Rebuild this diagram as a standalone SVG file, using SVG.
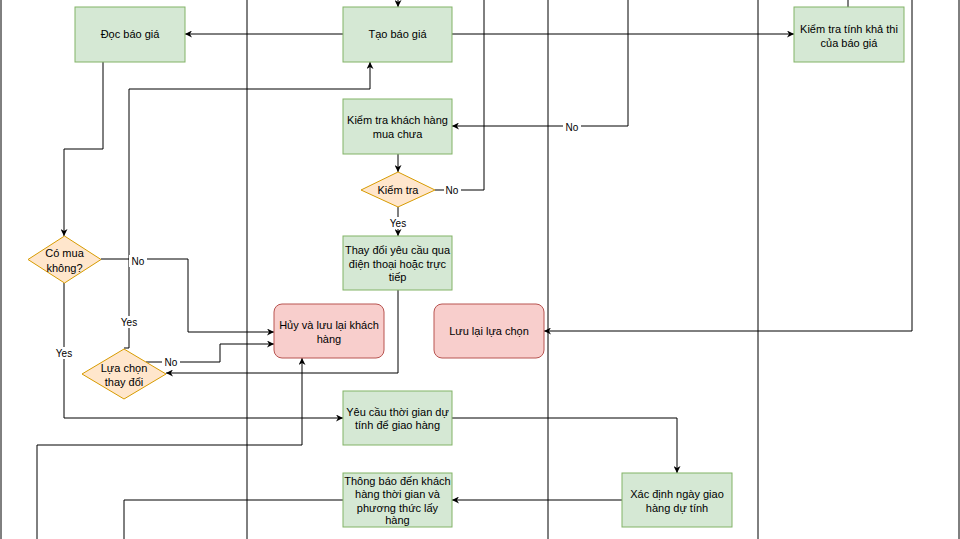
<svg xmlns="http://www.w3.org/2000/svg" width="960" height="539" viewBox="0 0 960 539">
<defs>
<marker id="arr" viewBox="0 0 10 10" refX="10" refY="5" markerWidth="7" markerHeight="7" markerUnits="userSpaceOnUse" orient="auto">
<path d="M0 0 L10 5 L0 10 L3 5 Z" fill="#000"/>
</marker>
<style>
.lane{stroke:#000;stroke-width:1;fill:none}
.e{stroke:#000;stroke-width:1;fill:none}
.ea{stroke:#000;stroke-width:1;fill:none;marker-end:url(#arr)}
.g{fill:#d5e8d4;stroke:#82b366;stroke-width:1}
.r{fill:#f8cecc;stroke:#b85450;stroke-width:1}
.d{fill:#ffe6cc;stroke:#d79b00;stroke-width:1}
text{font-family:"Liberation Sans",Arial,sans-serif;font-size:11px;fill:#000;text-anchor:middle}
.lbl{font-size:10px}
.lb{fill:#fff}
</style>
</defs>
<rect width="960" height="539" fill="#fff"/>
<g id="lanes">
<line class="lane" x1="1" y1="0" x2="1" y2="539" stroke-width="2"/>
<line class="lane" x1="247" y1="0" x2="247" y2="539"/>
<line class="lane" x1="548" y1="0" x2="548" y2="539"/>
<line class="lane" x1="758" y1="0" x2="758" y2="539"/>
<line class="lane" x1="959" y1="0" x2="959" y2="539"/>
</g>
<g id="connectors">
<path class="ea" d="M398 0 L398 7"/>
<path class="ea" d="M343 34 L185 34"/>
<path class="ea" d="M452 34 L794 34"/>
<path class="e" d="M848 7 L848 0"/>
<path class="ea" d="M628 0 L628 126 L452 126"/>
<path class="e" d="M435 190 L484 190 L484 0"/>
<path class="ea" d="M398 154 L398 172"/>
<path class="ea" d="M398 207 L398 236"/>
<path class="ea" d="M398 290 L398 373 L166 373"/>
<path class="ea" d="M103 62 L103 149 L64 149 L64 236"/>
<path class="ea" d="M101 259 L188 259 L188 332 L274 332"/>
<path class="ea" d="M64 283 L64 418 L343 418"/>
<path class="ea" d="M124 348 L129 348 L129 89 L370 89 L370 62"/>
<path class="ea" d="M146 362 L220 362 L220 344 L274 344"/>
<path class="e" d="M912 0 L912 331" stroke="#666" stroke-width="1.6"/>
<path class="ea" d="M912 331 L544 331"/>
<path class="ea" d="M37 539 L37 445 L302 445 L302 358"/>
<path class="ea" d="M452 418 L677 418 L677 473"/>
<path class="ea" d="M622 500 L452 500"/>
<path class="e" d="M343 500 L124 500 L124 539"/>
<rect class="lb" x="563" y="121" width="18" height="12"/>
<text class="lbl" x="572" y="131">No</text>
<rect class="lb" x="444" y="184" width="17" height="12"/>
<text class="lbl" x="452" y="194">No</text>
<rect class="lb" x="388" y="217" width="20" height="12"/>
<text class="lbl" x="398" y="227">Yes</text>
<rect class="lb" x="129" y="255" width="18" height="12"/>
<text class="lbl" x="138" y="265">No</text>
<rect class="lb" x="54" y="347" width="20" height="12"/>
<text class="lbl" x="64" y="357">Yes</text>
<rect class="lb" x="119" y="316" width="20" height="12"/>
<text class="lbl" x="129" y="326">Yes</text>
<rect class="lb" x="162" y="356" width="18" height="12"/>
<text class="lbl" x="171" y="366">No</text>
</g>
<g id="doc-bao-gia"><rect class="g" x="75" y="7" width="110" height="55"/><text x="130" y="38">Đọc báo giá</text></g>
<g id="tao-bao-gia"><rect class="g" x="343" y="7" width="109" height="55"/><text x="397.5" y="38">Tạo báo giá</text></g>
<g id="kiem-tra-kha-thi"><rect class="g" x="794" y="7" width="110" height="55"/><text x="849" y="33">Kiểm tra tính khả thi</text><text x="849" y="47">của báo giá</text></g>
<g id="kiem-tra-khach-hang"><rect class="g" x="343" y="99" width="109" height="55"/><text x="397.5" y="124">Kiểm tra khách hàng</text><text x="397.5" y="138">mua chưa</text></g>
<g id="kiem-tra"><path class="d" d="M398 172 L435 190 L398 207 L361 190 Z"/><text x="398" y="194">Kiểm tra</text></g>
<g id="thay-doi"><rect class="g" x="343" y="236" width="109" height="54"/><text x="397.5" y="254">Thay đổi yêu cầu qua</text><text x="397.5" y="267.5">điện thoại hoặc trực</text><text x="397.5" y="281">tiếp</text></g>
<g id="co-mua"><path class="d" d="M64.5 236 L101 259.5 L64.5 283 L28 259.5 Z"/><text x="64.5" y="257">Có mua</text><text x="64.5" y="272">không?</text></g>
<g id="lua-chon"><path class="d" d="M124 349 L166 374 L124 399 L82 374 Z"/><text x="124" y="372">Lựa chọn</text><text x="124" y="386">thay đổi</text></g>
<g id="huy"><rect class="r" x="274" y="304" width="110" height="54" rx="8"/><text x="329" y="329">Hủy và lưu lại khách</text><text x="329" y="343">hàng</text></g>
<g id="luu-lai"><rect class="r" x="434" y="304" width="110" height="54" rx="8"/><text x="489" y="335">Lưu lại lựa chọn</text></g>
<g id="yeu-cau"><rect class="g" x="343" y="391" width="109" height="54"/><text x="397.5" y="416">Yêu cầu thời gian dự</text><text x="397.5" y="429">tính để giao hàng</text></g>
<g id="thong-bao"><rect class="g" x="343" y="473" width="109" height="54"/><text x="397.5" y="485">Thông báo đến khách</text><text x="397.5" y="498">hàng thời gian và</text><text x="397.5" y="512">phương thức lấy</text><text x="397.5" y="524">hàng</text></g>
<g id="xac-dinh"><rect class="g" x="622" y="473" width="110" height="54"/><text x="677" y="498">Xác định ngày giao</text><text x="677" y="512">hàng dự tính</text></g>
</svg>
